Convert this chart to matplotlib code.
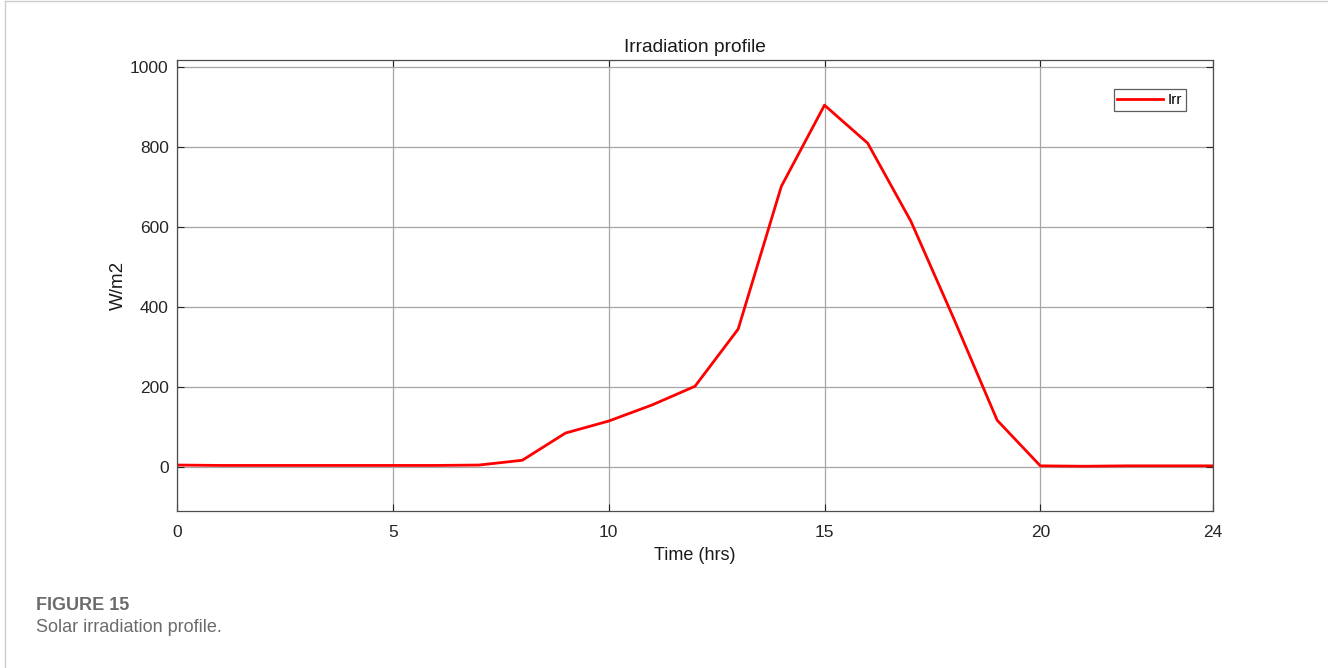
import matplotlib.pyplot as plt
from matplotlib.lines import Line2D

# hourly solar irradiance (W/m2)
hours = list(range(0, 25))
irr = [5, 4, 4, 4, 4, 4, 4, 5, 17, 85, 115, 155, 202, 345, 702, 905, 810, 615,
       370, 117, 3, 2, 3, 3, 3]
xticks = [0, 5, 10, 15, 20, 24]
yticks = [0, 200, 400, 600, 800, 1000]

plt.rcParams["font.family"] = ["Liberation Sans", "DejaVu Sans"]

fig = plt.figure(figsize=(13.28, 6.68), dpi=100)
ax = fig.add_axes([0.1333, 0.235, 0.7801, 0.6752])

ax.plot(hours, irr, color="#ff0000", lw=2.0, label="Irr")
ax.set_xlim(0, 24)
ax.set_ylim(-110, 1018)
ax.set_xticks(xticks)
ax.set_yticks(yticks)
ax.grid(True, color="#a6a6a6", lw=0.9)
ax.tick_params(direction="in", top=True, right=True, labelsize=12.5,
               colors="#262626", length=5)
ax.tick_params(axis="x", pad=10)
ax.tick_params(axis="y", pad=6)
for s in ax.spines.values():
    s.set_color("#4d4d4d")
    s.set_linewidth(0.9)

ax.set_title("Irradiation profile", fontsize=13.8, color="#1a1a1a", pad=6)
ax.set_xlabel("Time (hrs)", fontsize=13, color="#1a1a1a", labelpad=5)
ax.set_ylabel("W/m2", fontsize=13.5, color="#1a1a1a", labelpad=2)

leg = ax.legend(loc="upper right", bbox_to_anchor=(0.974, 0.935), fontsize=11,
                frameon=True, fancybox=False, handlelength=3.0,
                handletextpad=0.3, borderpad=0.25, borderaxespad=0)
leg.get_frame().set_edgecolor("#333333")
leg.get_frame().set_linewidth(0.9)

# caption below the plot
fig.text(0.027, 0.093, "FIGURE 15", fontsize=13, fontweight="bold",
         color="#6b6b6b", va="center")
fig.text(0.027, 0.060, "Solar irradiation profile.", fontsize=13,
         color="#6b6b6b", va="center")

# thin page border on the left and top
fig.add_artist(Line2D([0.004, 0.004], [0, 0.999], transform=fig.transFigure,
                      color="#cccccc", lw=1))
fig.add_artist(Line2D([0.004, 1], [0.999, 0.999], transform=fig.transFigure,
                      color="#cccccc", lw=1))

fig.savefig("out.png", dpi=100)
